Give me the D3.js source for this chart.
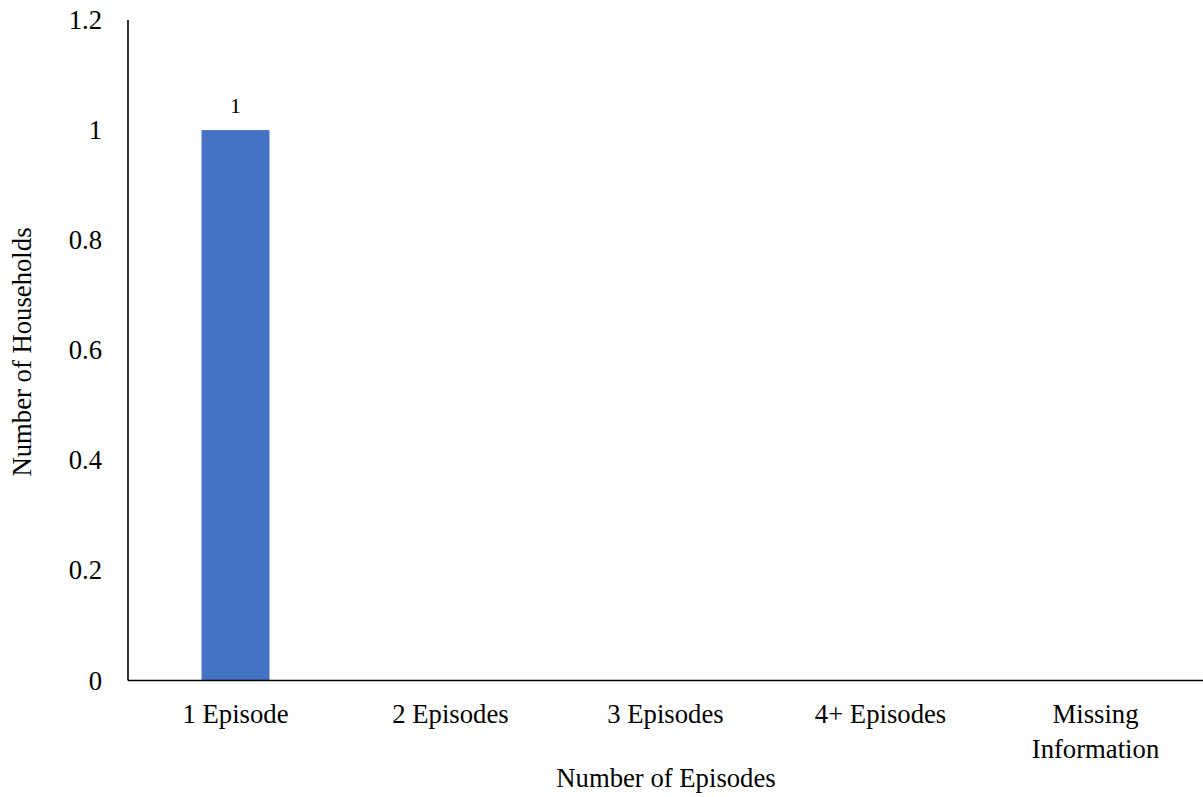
<!DOCTYPE html>
<html><head><meta charset="utf-8">
<script src="https://cdn.jsdelivr.net/npm/d3@7"></script>
<style>body{margin:0;background:#fff;}</style>
</head><body><svg id="c" width="1203" height="797" font-family="'Liberation Serif', 'Times New Roman', Tinos, 'DejaVu Serif', serif"></svg>
<script>
const categories = ["1 Episode", "2 Episodes", "3 Episodes", "4+ Episodes", "Missing Information"];
const values = [1, 0, 0, 0, 0];
const yTicks = [0, 0.2, 0.4, 0.6, 0.8, 1, 1.2];
const xTitle = "Number of Episodes";
const yTitle = "Number of Households";

const svg = d3.select("#c");
const fs = 26.7;
const x = d3.scaleBand().domain(categories).range([128, 1203]).paddingInner(0.684).paddingOuter(0.342);
const xb = d3.scaleBand().domain(categories).range([128, 1203]);
const y = d3.scaleLinear().domain([0, 1.2]).range([680.5, 20]);

// bars
svg.selectAll("rect.bar").data(values).join("rect")
  .attr("x", (d, i) => x(categories[i]))
  .attr("width", x.bandwidth())
  .attr("y", d => y(d))
  .attr("height", d => y(0) - y(d))
  .attr("fill", "#4472C4");

// data labels
svg.selectAll("text.dl").data(values.map((v, i) => ({v, i})).filter(d => d.v > 0)).join("text")
  .attr("x", d => xb(categories[d.i]) + xb.bandwidth() / 2)
  .attr("y", d => y(d.v) - 17)
  .attr("text-anchor", "middle").attr("font-size", 22)
  .text(d => d.v);

// y tick labels
svg.selectAll("text.yt").data(yTicks).join("text")
  .attr("x", 102).attr("y", d => y(d) + 9)
  .attr("text-anchor", "end").attr("font-size", fs)
  .text(d => d3.format("~g")(d));

// axes lines
svg.append("line").attr("x1", 128).attr("x2", 128).attr("y1", y(1.2)).attr("y2", y(0))
  .attr("stroke", "#000").attr("stroke-width", 1.6);
svg.append("line").attr("x1", 128).attr("x2", 1203).attr("y1", y(0)).attr("y2", y(0))
  .attr("stroke", "#000").attr("stroke-width", 1.6);

// x tick labels (wrapped)
const wrap = {"Missing Information": ["Missing", "Information"]};
categories.forEach(c => {
  const lines = wrap[c] || [c];
  const t = svg.append("text").attr("text-anchor", "middle").attr("font-size", fs);
  lines.forEach((l, k) => t.append("tspan").attr("x", xb(c) + xb.bandwidth() / 2).attr("y", 723 + k * 35).text(l));
});

// titles
svg.append("text").attr("x", 128 + (1203 - 128) / 2 + 0.5).attr("y", 787).attr("text-anchor", "middle")
  .attr("font-size", fs).text(xTitle);
svg.append("text").attr("transform", "translate(31,352) rotate(-90)").attr("text-anchor", "middle")
  .attr("font-size", fs).text(yTitle);
</script></body></html>
